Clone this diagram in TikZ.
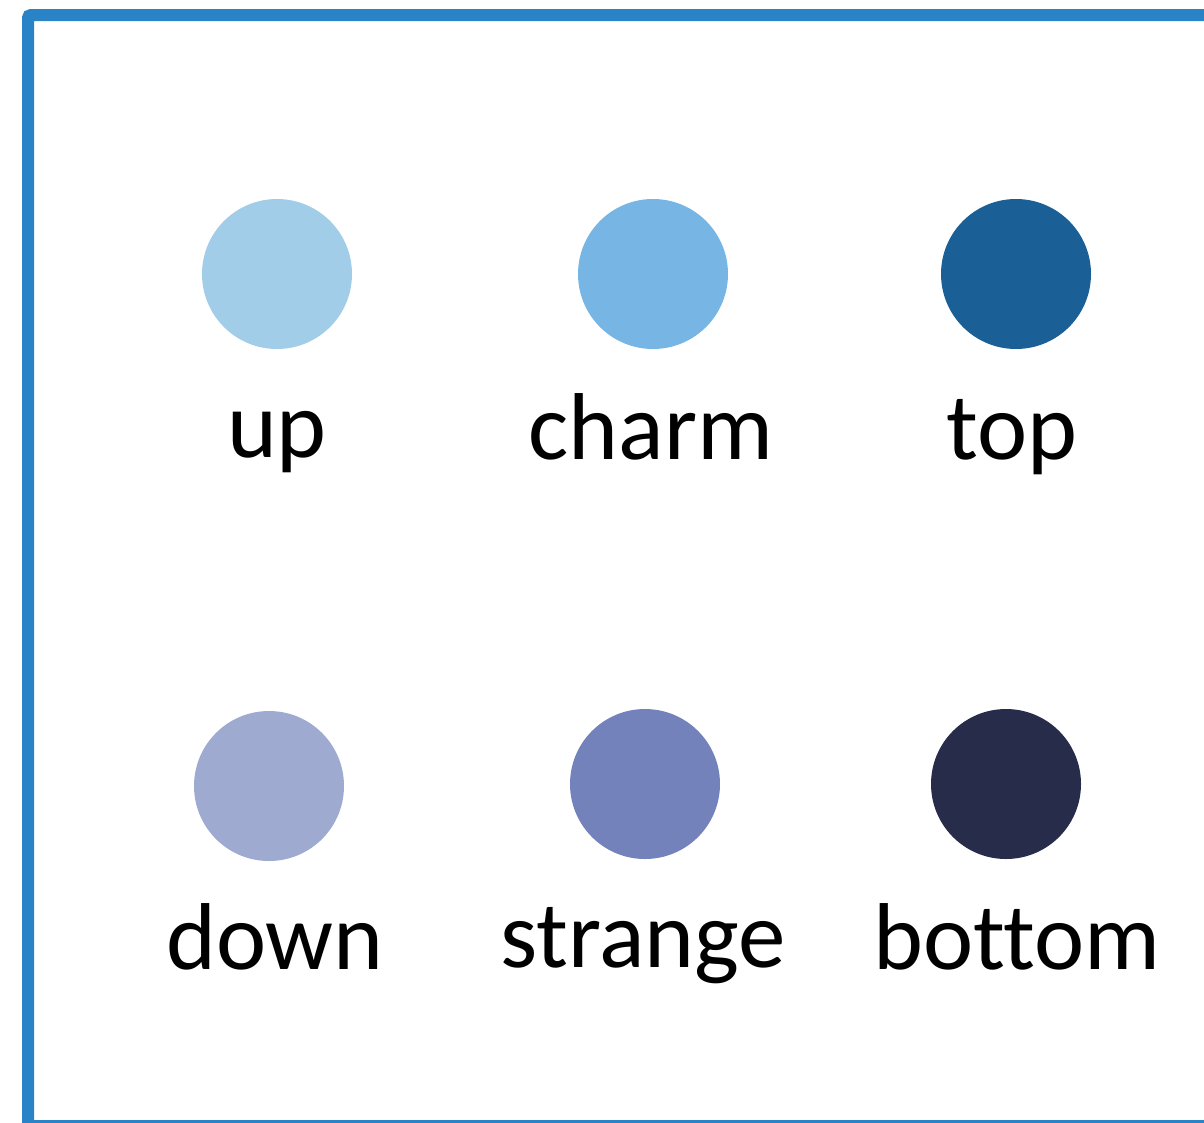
\documentclass[tikz,border=0pt]{standalone}
\usepackage{fontspec}
\setmainfont[Ligatures={NoCommon}]{Carlito}
\definecolor{frameblue}{HTML}{2A83C6}
\definecolor{cup}{HTML}{A2CDE9}
\definecolor{ccharm}{HTML}{77B5E4}
\definecolor{ctop}{HTML}{1A6096}
\definecolor{cdown}{HTML}{9FAAD1}
\definecolor{cstrange}{HTML}{7382BA}
\definecolor{cbottom}{HTML}{272C4B}
\begin{document}
\begin{tikzpicture}[x=1pt,y=-1pt,
  quark/.style={circle,inner sep=0pt,minimum size=150pt,draw=none},
  lbl/.style={anchor=base,inner sep=0pt,font=\fontsize{95pt}{110pt}\selectfont}]
\useasboundingbox (0,0) rectangle (1204,1122);
\begin{scope}
\clip (0,0) rectangle (1204,1122);
\draw[frameblue,line width=12pt,rounded corners=3pt] (28,1126) -- (28,15) -- (1220,15) -- (1220,1126) -- cycle;
\end{scope}
\node[quark,fill=cup] (up) at (277,274) {};
\node[quark,fill=ccharm] (charm) at (653,274) {};
\node[quark,fill=ctop] (top) at (1016,274) {};
\node[quark,fill=cdown] (down) at (269,786) {};
\node[quark,fill=cstrange] (strange) at (645,784) {};
\node[quark,fill=cbottom] (bottom) at (1006,784) {};
\node[lbl] (tup) at (277,457) {up};
\node[lbl] (tcharm) at (651,459) {charm};
\node[lbl] (ttop) at (1012,459) {top};
\node[lbl] (tdown) at (275,969) {down};
\node[lbl] (tstrange) at (643,967) {strange};
\node[lbl] (tbottom) at (1017,969) {bottom};
\end{tikzpicture}
\end{document}
